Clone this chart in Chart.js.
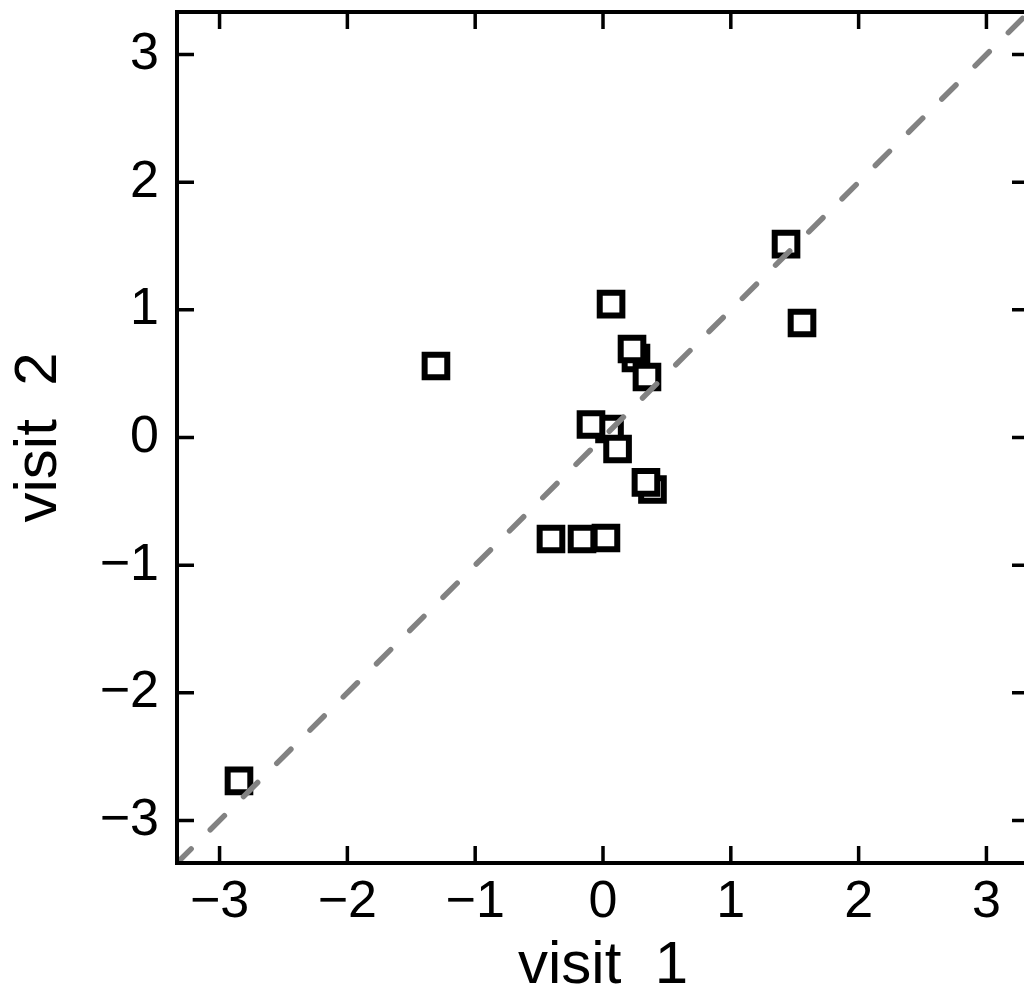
<!DOCTYPE html>
<html>
<head>
<meta charset="utf-8">
<script src="https://cdn.jsdelivr.net/npm/chart.js@4"></script>
<style>
html, body { margin: 0; padding: 0; overflow: hidden; background: #fff; }
#wrap { width: 1040px; height: 996px; }
</style>
</head>
<body>
<div id="wrap"><canvas id="c" width="1040" height="996"></canvas></div>
<script>
// Data
const visit1 = [0.063, -1.307, 0.258, 0.227, 0.344, 0.051, -0.094, 0.114, 0.387, 0.336, -0.407, -0.164, 0.023, 1.432, 1.557, -2.848];
const visit2 = [1.045, 0.560, 0.623, 0.693, 0.474, 0.067, 0.102, -0.090, -0.407, -0.352, -0.795, -0.795, -0.787, 1.515, 0.897, -2.690];
const diagX = [-3.333, 3.333];
const tickValues = [-3, -2, -1, 0, 1, 2, 3];
const tickLabels = ['\u22123', '\u22122', '\u22121', '0', '1', '2', '3'];
const xTitle = 'visit  1';
const yTitle = 'visit  2';
const axisMin = -3.333, axisMax = 3.333;

const FONT = "'Liberation Sans', Arial, sans-serif";

const frame = {
  id: 'frame',
  afterDraw(chart) {
    const {ctx, chartArea: a, scales} = chart;
    ctx.save();
    ctx.strokeStyle = '#000';
    ctx.lineCap = 'butt';
    ctx.lineWidth = 3.5;
    const L = 17;
    tickValues.forEach(v => {
      const px = scales.x.getPixelForValue(v);
      const py = scales.y.getPixelForValue(v);
      ctx.beginPath();
      ctx.moveTo(px, a.bottom); ctx.lineTo(px, a.bottom - L);
      ctx.moveTo(px, a.top); ctx.lineTo(px, a.top + L);
      ctx.moveTo(a.left, py); ctx.lineTo(a.left + L, py);
      ctx.moveTo(a.right, py); ctx.lineTo(a.right - L, py);
      ctx.stroke();
    });
    ctx.lineWidth = 4;
    ctx.lineJoin = 'miter';
    ctx.strokeRect(a.left, a.top, a.right - a.left, a.bottom - a.top);
    ctx.restore();
  }
};

const setTicks = scale => { scale.ticks = tickValues.map(v => ({value: v})); };
const labelFor = v => { const i = tickValues.indexOf(v); return i >= 0 ? tickLabels[i] : ''; };

new Chart(document.getElementById('c'), {
  data: {
    datasets: [
      {
        type: 'line',
        data: diagX.map(v => ({x: v, y: v})),
        borderColor: '#828282',
        borderWidth: 5.5,
        borderDash: [20, 27],
        borderCapStyle: 'round',
        pointRadius: 0,
        fill: false,
        tension: 0
      },
      {
        type: 'scatter',
        data: visit1.map((v, i) => ({x: v, y: visit2[i]})),
        pointStyle: 'rect',
        pointRadius: 16,
        pointBorderWidth: 6,
        pointBorderColor: '#000',
        pointBackgroundColor: '#fff'
      }
    ]
  },
  options: {
    responsive: false,
    animation: false,
    events: [],
    layout: { autoPadding: false, padding: { left: 0, top: 12, right: 11, bottom: 0 } },
    plugins: { legend: { display: false }, tooltip: { enabled: false } },
    scales: {
      x: {
        type: 'linear',
        min: axisMin, max: axisMax,
        afterBuildTicks: setTicks,
        afterFit: s => { s.height = 133; s.paddingLeft = 0; s.paddingRight = 0; s.paddingTop = 0; s.paddingBottom = 0; },
        grid: { display: false, drawTicks: false },
        border: { display: false },
        ticks: { color: '#000', padding: 8, maxRotation: 0, autoSkip: false,
                 font: { family: FONT, size: 52 }, callback: labelFor },
        title: { display: true, text: xTitle, color: '#000',
                 font: { family: FONT, size: 60, lineHeight: 1 }, padding: { top: 0, bottom: 0 } }
      },
      y: {
        type: 'linear',
        min: axisMin, max: axisMax,
        afterBuildTicks: setTicks,
        afterFit: s => { s.width = 177; s.paddingLeft = 0; s.paddingRight = 0; s.paddingTop = 0; s.paddingBottom = 0; },
        grid: { display: false, drawTicks: false },
        border: { display: false },
        ticks: { color: '#000', padding: 18, autoSkip: false,
                 font: { family: FONT, size: 52 }, callback: labelFor },
        title: { display: true, text: yTitle, color: '#000',
                 font: { family: FONT, size: 60, lineHeight: 1 }, padding: { top: 9, bottom: 0 } }
      }
    }
  },
  plugins: [frame]
});
</script>
</body>
</html>
